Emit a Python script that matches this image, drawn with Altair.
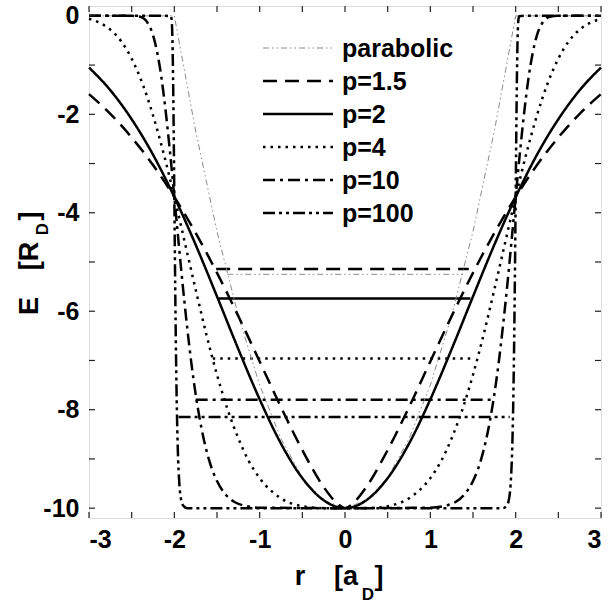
import altair as alt
import pandas as pd

FONT = "Liberation Sans"

series_order = ["parabolic", "p=1.5", "p=2", "p=4", "p=10", "p=100"]
series_dash = [[6, 3, 1.5, 3, 1.5, 3], [14, 8], [1, 0], [2.5, 5], [12, 5, 3, 5], [12, 4, 3, 4, 3, 4]]
series_color = ["#8a8a8a", "black", "black", "black", "black", "black"]

# potential curves
r_par = [-3.0, -2.5, -2.0, -1.75, -1.5, -1.25, -1.0, -0.75, -0.5, -0.25, 0.0,
         0.25, 0.5, 0.75, 1.0, 1.25, 1.5, 1.75, 2.0, 2.5, 3.0]
E_par = [0.0, 0.0, 0.0, -2.34, -4.38, -6.09, -7.5, -8.59, -9.38, -9.84, -10.0,
         -9.84, -9.38, -8.59, -7.5, -6.09, -4.38, -2.34, 0.0, 0.0, 0.0]

r_p15 = [-3.0, -2.75, -2.5, -2.25, -2.0, -1.75, -1.5, -1.25, -1.0, -0.75, -0.5, -0.25, -0.1, 0.0,
         0.1, 0.25, 0.5, 0.75, 1.0, 1.25, 1.5, 1.75, 2.0, 2.25, 2.5, 2.75, 3.0]
E_p15 = [-1.59, -1.99, -2.47, -3.03, -3.68, -4.41, -5.22, -6.10, -7.02, -7.95, -8.82, -9.57, -9.89, -10.0,
         -9.89, -9.57, -8.82, -7.95, -7.02, -6.10, -5.22, -4.41, -3.68, -3.03, -2.47, -1.99, -1.59]

r_p2 = [-3.0, -2.75, -2.5, -2.25, -2.0, -1.75, -1.5, -1.25, -1.0, -0.75, -0.5, -0.25, 0.0,
        0.25, 0.5, 0.75, 1.0, 1.25, 1.5, 1.75, 2.0, 2.25, 2.5, 2.75, 3.0]
E_p2 = [-1.05, -1.51, -2.10, -2.82, -3.68, -4.65, -5.70, -6.77, -7.79, -8.69, -9.39, -9.84, -10.0,
        -9.84, -9.39, -8.69, -7.79, -6.77, -5.70, -4.65, -3.68, -2.82, -2.10, -1.51, -1.05]

r_p4 = [-3.0, -2.875, -2.75, -2.625, -2.5, -2.375, -2.25, -2.125, -2.0, -1.875, -1.75, -1.625, -1.5,
        -1.375, -1.25, -1.125, -1.0, -0.75, -0.5, -0.25, 0.0, 0.25, 0.5, 0.75, 1.0, 1.125, 1.25,
        1.375, 1.5, 1.625, 1.75, 1.875, 2.0, 2.125, 2.25, 2.375, 2.5, 2.625, 2.75, 2.875, 3.0]
E_p4 = [-0.06, -0.14, -0.28, -0.51, -0.87, -1.37, -2.02, -2.80, -3.68, -4.62, -5.56, -6.47, -7.29,
        -8.00, -8.58, -9.05, -9.39, -9.80, -9.96, -10.0, -10.0, -10.0, -9.96, -9.80, -9.39, -9.05, -8.58,
        -8.00, -7.29, -6.47, -5.56, -4.62, -3.68, -2.80, -2.02, -1.37, -0.87, -0.51, -0.28, -0.14, -0.06]

r_p10 = [-3.0, -2.5, -2.4, -2.3, -2.25, -2.2, -2.15, -2.1, -2.05, -2.0, -1.95, -1.9, -1.85, -1.8,
         -1.75, -1.7, -1.6, -1.5, -1.4, -1.3, -1.2, -1.0, 0.0, 1.0, 1.2, 1.3, 1.4, 1.5, 1.6, 1.7,
         1.75, 1.8, 1.85, 1.9, 1.95, 2.0, 2.05, 2.1, 2.15, 2.2, 2.25, 2.3, 2.4, 2.5, 3.0]
E_p10 = [0.0, 0.0, -0.02, -0.18, -0.39, -0.75, -1.27, -1.96, -2.78, -3.68, -4.60, -5.50, -6.32, -7.06,
         -7.69, -8.21, -8.98, -9.45, -9.72, -9.87, -9.94, -9.99, -10.0, -9.99, -9.94, -9.87, -9.72, -9.45,
         -8.98, -8.21, -7.69, -7.06, -6.32, -5.50, -4.60, -3.68, -2.78, -1.96, -1.27, -0.75, -0.39, -0.18,
         -0.02, 0.0, 0.0]

r_p100 = [-3.0, -2.1, -2.04, -2.03, -2.02, -2.01, -2.005, -2.0, -1.995, -1.99, -1.98, -1.97, -1.96,
          -1.94, -1.92, -1.9, -1.85, 0.0, 1.85, 1.9, 1.92, 1.94, 1.96, 1.97, 1.98, 1.99, 1.995, 2.0,
          2.005, 2.01, 2.02, 2.03, 2.04, 2.1, 3.0]
E_p100 = [0.0, 0.0, -0.01, -0.12, -0.67, -1.93, -2.77, -3.68, -4.59, -5.46, -6.93, -8.02, -8.76,
          -9.54, -9.83, -9.94, -10.0, -10.0, -10.0, -9.94, -9.83, -9.54, -8.76, -8.02, -6.93, -5.46,
          -4.59, -3.68, -2.77, -1.93, -0.67, -0.12, -0.01, 0.0, 0.0]

# ground-state energy levels
lev_series = ["parabolic", "p=1.5", "p=2", "p=4", "p=10", "p=100"]
lev_E = [-5.25, -5.14, -5.74, -6.96, -7.80, -8.15]
lev_r1 = [-1.38, -1.51, -1.48, -1.55, -1.75, -1.95]
lev_r2 = [1.38, 1.45, 1.47, 1.51, 1.74, 1.93]

# axis ticks
x_labels = [-3, -2, -1, 0, 1, 2, 3]
y_labels = [-10, -8, -6, -4, -2, 0]
x_ticks = [-3, -2.5, -2, -1.5, -1, -0.5, 0, 0.5, 1, 1.5, 2, 2.5, 3]
y_ticks = [-10, -9, -8, -7, -6, -5, -4, -3, -2, -1, 0]

curves = pd.concat([
    pd.DataFrame({"r": r, "E": e, "series": s})
    for s, r, e in [("p=1.5", r_p15, E_p15), ("p=2", r_p2, E_p2), ("p=4", r_p4, E_p4),
                    ("p=10", r_p10, E_p10), ("p=100", r_p100, E_p100)]
])
parab = pd.DataFrame({"r": r_par, "E": E_par, "series": "parabolic"})
levels = pd.DataFrame({"series": lev_series, "E": lev_E, "r": lev_r1, "r_end": lev_r2})
legend_df = pd.DataFrame({"series": series_order})
xt = pd.DataFrame({"r": x_ticks})
yt = pd.DataFrame({"E": y_ticks})

W = 512
H = 512

x_enc = alt.X("r:Q", scale=alt.Scale(domain=[-3, 3], nice=False, zero=False),
              axis=alt.Axis(values=x_labels, title=None, grid=False, domain=False, ticks=False,
                            tickSize=0, labelFont=FONT, labelFontSize=25, labelFontWeight="bold",
                            labelColor="black", labelPadding=9, labelExpr="'' + datum.value"))
y_enc = alt.Y("E:Q", scale=alt.Scale(domain=[-10.2, 0.2], nice=False, zero=False),
              axis=alt.Axis(values=y_labels, title=None, grid=False, domain=False, ticks=False,
                            tickSize=0, labelFont=FONT, labelFontSize=25, labelFontWeight="bold",
                            labelColor="black", labelPadding=10, labelExpr="'' + datum.value"))

color_enc = alt.Color("series:N", scale=alt.Scale(domain=series_order, range=series_color), legend=None)
dash_enc = alt.StrokeDash("series:N", scale=alt.Scale(domain=series_order, range=series_dash), legend=None)

curve_layer = alt.Chart(curves).mark_line(interpolate="monotone", strokeWidth=2.5).encode(
    x=x_enc, y=y_enc, color=color_enc, strokeDash=dash_enc, detail="series:N")
parab_layer = alt.Chart(parab).mark_line(interpolate="linear", strokeWidth=1).encode(
    x=x_enc, y=y_enc, color=color_enc, strokeDash=dash_enc)
level_black = alt.Chart(levels).transform_filter("datum.series != 'parabolic'").mark_rule(
    strokeWidth=2.5).encode(x=x_enc, x2="r_end:Q", y=y_enc, color=color_enc, strokeDash=dash_enc)
level_par = alt.Chart(levels).transform_filter("datum.series == 'parabolic'").mark_rule(
    strokeWidth=1).encode(x=x_enc, x2="r_end:Q", y=y_enc, color=color_enc, strokeDash=dash_enc)

# legend drawn inside the plot area (one entry per series, styled by the same scales)
LEG_X0, LEG_X1, LEG_TX, LEG_Y0, LEG_DY = 174, 244, 253, 42, 33
legend_layers = []
for i, s in enumerate(series_order):
    yy = LEG_Y0 + LEG_DY * i
    base = alt.Chart(legend_df).transform_filter(alt.datum.series == s)
    legend_layers.append(
        base.mark_rule(strokeWidth=1 if s == "parabolic" else 2.5).encode(
            x=alt.value(LEG_X0), x2=alt.value(LEG_X1), y=alt.value(yy),
            color=color_enc, strokeDash=dash_enc))
    legend_layers.append(
        base.mark_text(font=FONT, fontSize=25, fontWeight="bold", color="black",
                       align="left", baseline="middle").encode(
            x=alt.value(LEG_TX), y=alt.value(yy + 1), text="series:N"))

TK = 6
tick_style = dict(color="#222", strokeWidth=1.2)
tb = alt.Chart(xt).mark_rule(**tick_style).encode(x=x_enc, y=alt.value(H), y2=alt.value(H - TK))
tt = alt.Chart(xt).mark_rule(**tick_style).encode(x=x_enc, y=alt.value(0), y2=alt.value(TK))
tl = alt.Chart(yt).mark_rule(**tick_style).encode(y=y_enc, x=alt.value(0), x2=alt.value(TK))
tr = alt.Chart(yt).mark_rule(**tick_style).encode(y=y_enc, x=alt.value(W), x2=alt.value(W - TK))

one = pd.DataFrame({"k": [0]})


def txt(s, x, y, size, angle=0, align="center", baseline="alphabetic"):
    kw = dict(text=s, font=FONT, fontSize=size, fontWeight="bold", color="black",
              align=align, baseline=baseline)
    if angle:
        kw["angle"] = angle
    return alt.Chart(one).mark_text(**kw).encode(x=alt.value(x), y=alt.value(y))


# axis titles with subscripts
x_title = [
    txt("r", 211, 579, 27),
    txt("[a", 257, 579, 27),
    txt("D", 279, 594, 17),
    txt("]", 290, 579, 27),
]
y_title = [
    txt("E", -51, 300, 27, angle=270),
    txt("[R", -51, 250, 27, angle=270),
    txt("D", -41, 223, 17, angle=270),
    txt("]", -51, 210, 27, angle=270),
]

chart = alt.layer(
    level_par, level_black, parab_layer, curve_layer, tb, tt, tl, tr,
    *legend_layers, *x_title, *y_title
).properties(
    width=W, height=H, autosize="none",
    padding={"left": 89, "top": 6, "right": 9, "bottom": 88},
).configure_view(
    stroke="#222", strokeWidth=1.6
).configure(background="white")

chart.save("out.html", embed_options={"renderer": "svg", "actions": False})
